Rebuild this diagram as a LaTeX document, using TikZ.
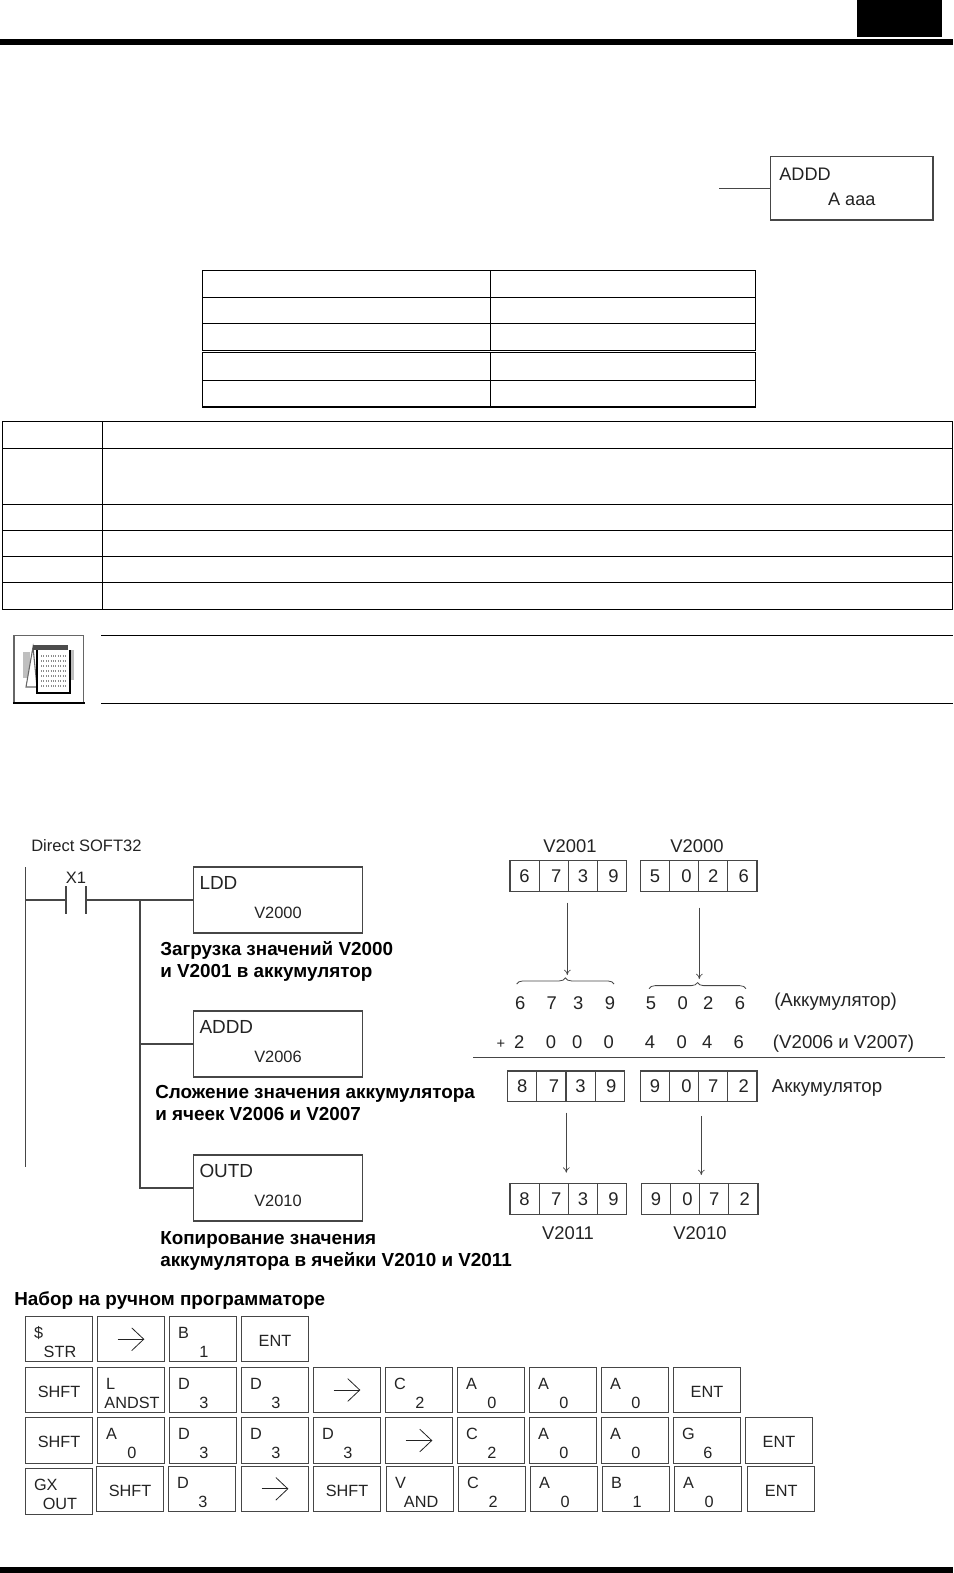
\documentclass[tikz,border=0pt]{standalone}
\usepackage{fontspec}
\setmainfont{Liberation Sans}
\usetikzlibrary{arrows.meta,positioning,decorations.pathreplacing}
\definecolor{corfio}{RGB}{70,70,70}
\definecolor{cortexto}{RGB}{35,35,35}
\newcommand{\keytext}[2]{\makebox[50.5pt][l]{\rule{0pt}{13.3pt}\hspace{6.5pt}#1}\\\makebox[50.5pt][c]{\hspace{1.5pt}#2}}
\newcommand{\keysolo}[1]{\rule{0pt}{11pt}#1}
\newcommand{\instrtext}[3]{\makebox[#1][l]{\hspace{4.5pt}#2}\\[7pt]\makebox[#1][c]{\fontsize{12.3}{14}\selectfont#3}\rule[-4pt]{0pt}{4pt}}
\newcommand{\digitrow}[4]{%
  \foreach \dgt [count=\i] in {#4} {
    \pgfmathsetmacro\nudge{{0,2.5,0,1.5}[\i-1]}
    \node[celula] (#1\i) at ({#2+29.15*(\i-.5)},#3) {};
    \node[numero] at ([xshift=\nudge*0.75pt]#1\i.center) {\dgt};
  }}
\begin{document}
\begin{tikzpicture}[
  x=0.75pt, y=-0.75pt,
  node distance=2.6pt,
  grade/.style={line width=0.9pt, color=black},
  fio/.style={line width=0.8pt, color=corfio},
  seta/.style={-{To[length=4pt,width=5pt]}, line width=0.5pt, color=corfio},
  setatecla/.style={-{Straight Barb[length=9pt,width=17pt]}, line width=0.6pt, color=cortexto},
  instr/.style={rectangle, draw=corfio, line width=0.9pt, minimum width=126.75pt,
                minimum height=49.5pt, inner sep=0pt, align=center, text=cortexto,
                font=\fontsize{14.2}{14.5}\selectfont},
  keycap/.style={rectangle, draw=corfio, line width=0.9pt, minimum width=50.5pt,
                 minimum height=34pt, inner sep=0pt, align=center, text=cortexto,
                 font=\fontsize{12.2}{14.25}\selectfont},
  celula/.style={rectangle, draw=corfio, line width=0.9pt, minimum width=21.86pt,
                 minimum height=23pt, inner sep=0pt},
  numero/.style={inner sep=0pt, text=cortexto, text height=9.9pt, text depth=0pt,
                 font=\fontsize{13.8}{16}\selectfont},
  rotulo/.style={inner sep=0pt, text=cortexto, text height=8.9pt, text depth=0pt,
                 font=\fontsize{12.4}{15}\selectfont},
  legenda/.style={anchor=north west, inner sep=0pt, align=left, text=black,
                  font=\bfseries\fontsize{14.15}{16.5}\selectfont}
]
  \useasboundingbox (0,0) rectangle (953,1573);

  % page bars
  \fill[black] (857,0) rectangle (942,37);
  \fill[black] (0,39) rectangle (953,45);
  \fill[black] (0,1566.7) rectangle (953,1573);

  % instruction box at the top
  \node[instr, minimum width=121.7pt, minimum height=47.6pt, font=\fontsize{13.6}{14}\selectfont] (topo) at (851.8,188.3)
    {\makebox[121.7pt][l]{\hspace{6.5pt}ADDD}\\[4.75pt]\makebox[121.7pt][c]{A aaa}\rule[-1.75pt]{0pt}{1.75pt}};
  \coordinate (topoFio) at (719,188.3);
  \draw[fio] (topoFio) -- (topo.west);

  % empty tables
  \draw[grade] (202.3,270.3) rectangle (755.3,350.8);
  \draw[grade] (202.3,352.3) rectangle (755.3,407);
  \foreach \y in {297.3,323.3,380.3}
    \draw[grade] (202.3,\y) -- (755.3,\y);
  \draw[grade] (490.3,270.3) -- (490.3,350.8);
  \draw[grade] (490.3,352.3) -- (490.3,407);
  \draw[grade] (2.7,421.3) rectangle (952.3,609.3);
  \foreach \y in {448.3,504.3,530.3,556.3,582.3}
    \draw[grade] (2.7,\y) -- (952.3,\y);
  \draw[grade] (102.3,421.3) -- (102.3,609.3);

  % note rules and icon
  \draw[grade, line width=0.75pt] (101,635) -- (953,635);
  \draw[grade, line width=0.75pt] (101,703) -- (953,703);
  \draw[black!60, line width=1.1pt] (13.8,635.5) rectangle (83.5,703);
  \fill[black] (13,702) rectangle (84.5,704);
  \fill[black!25] (22.7,652) rectangle (30,678);
  \fill[black!25] (70,650) rectangle (73.5,680);
  \draw[black!60, line width=0.8pt, fill=white] (33,647) -- (26,687) -- (37,687) -- cycle;
  \fill[black!70] (33,645) rectangle (68,650);
  \draw[black, line width=1.2pt, fill=white] (37,650) -- (37,693) -- (70,693) -- (70,650);
  \foreach \y in {656,661,666,671,676,681,686}
    \draw[black!45, line width=0.8pt, densely dotted] (41,\y) -- (66,\y);

  % ladder rung
  \node[rotulo, anchor=west] (titulo) at (31,846) {Direct SOFT32};
  \node[rotulo] (x1) at (76,878) {X1};
  \node[instr] (ldd) at (278,900) {\instrtext{126.75pt}{LDD}{V2000}};
  \node[instr, below=57.6pt of ldd] (addd) {\instrtext{126.75pt}{ADDD}{V2006}};
  \node[instr, below=57.6pt of addd] (outd) {\instrtext{126.75pt}{OUTD}{V2010}};
  \coordinate (trilhoA) at (25.5,867);
  \coordinate (trilhoB) at (25.5,1167);
  \coordinate (trilho) at (25.5,900);
  \coordinate (contatoE) at (66,900);
  \coordinate (contatoD) at (86,900);
  \coordinate (ramo) at (140,900);
  \coordinate (ramoB) at (140,1044);
  \draw[fio] (trilhoA) -- (trilhoB);
  \draw[fio] (trilho) -- (contatoE);
  \draw[fio] (contatoD) -- (ldd.west);
  \draw[fio] ([yshift=10.5pt]contatoE) -- ([yshift=-10.5pt]contatoE);
  \draw[fio] ([yshift=10.5pt]contatoD) -- ([yshift=-10.5pt]contatoD);
  \draw[fio] (ramo) -- (ramoB);
  \draw[fio] (ramoB) -- (addd.west);
  \draw[fio] (ramoB) |- (outd.west);
  \node[legenda] (legA) at (160,941) {Загрузка значений V2000\\и V2001 в аккумулятор};
  \node[legenda] (legB) at (155,1085) {Сложение значения аккумулятора\\и ячеек V2006 и V2007};
  \node[legenda] (legC) at (160,1231.5) {Копирование значения\\аккумулятора в ячейки V2010 и V2011};
  \node[legenda] (legD) at (14,1291) {Набор на ручном программаторе};

  % double word addition
  \node[numero] (v2001) at (570,846) {V2001};
  \node[numero] (v2000) at (697,846) {V2000};
  \digitrow{ca}{510}{876}{6,7,3,9}
  \digitrow{cb}{640.3}{876}{5,0,2,6}
  \coordinate (chaveA) at (567.3,902.7);
  \coordinate (chaveB) at (699.3,907.7);
  \coordinate (pontaA) at (567.3,975);
  \coordinate (pontaB) at (699.3,979);
  \draw[seta] (chaveA) -- (pontaA);
  \draw[seta] (chaveB) -- (pontaB);
  \coordinate (bracoA) at (516.7,984);
  \coordinate (bracoB) at (614,984);
  \coordinate (bracoC) at (649,988.7);
  \coordinate (bracoD) at (746,988.7);
  \draw[fio, line width=0.6pt, decorate, decoration={brace, amplitude=4.6pt}] (bracoA) -- (bracoB);
  \draw[fio, line width=0.6pt, decorate, decoration={brace, amplitude=4.6pt}] (bracoC) -- (bracoD);
  \foreach \dgt/\px [count=\i] in {6/520.3,7/551.7,3/578.3,9/610,5/651,0/682.7,2/708.3,6/740}
    \node[numero] (ac\i) at (\px,1003) {\dgt};
  \node[rotulo, font=\fontsize{11}{13}\selectfont] (mais) at (501,1043) {+};
  \foreach \dgt/\px [count=\i] in {2/519.3,0/551,0/577.3,0/608.7,4/650,0/681.7,4/707.3,6/738.7}
    \node[numero] (vv\i) at (\px,1042.3) {\dgt};
  \node[numero, anchor=west, font=\fontsize{14}{16}\selectfont] (rotA) at (774,1000) {(Аккумулятор)};
  \node[numero, anchor=west, font=\fontsize{14}{16}\selectfont] (rotB) at (772.7,1042.3) {(V2006 и V2007)};
  \node[numero, anchor=west, font=\fontsize{14}{16}\selectfont] (rotC) at (771.7,1086) {Аккумулятор};
  \coordinate (somaE) at (473.3,1057.3);
  \coordinate (somaD) at (944.7,1057.3);
  \draw[fio] (somaE) -- (somaD);
  \digitrow{cc}{507.7}{1086.3}{8,7,3,9}
  \digitrow{cd}{640.3}{1086.3}{9,0,7,2}
  \coordinate (saidaA) at (566.3,1112.7);
  \coordinate (saidaB) at (701.3,1116);
  \coordinate (pontaC) at (566.3,1172.7);
  \coordinate (pontaD) at (701.3,1175);
  \draw[seta] (saidaA) -- (pontaC);
  \draw[seta] (saidaB) -- (pontaD);
  \digitrow{ce}{510}{1199.2}{8,7,3,9}
  \digitrow{cf}{641.3}{1199.2}{9,0,7,2}
  \node[numero] (v2011) at (568,1233) {V2011};
  \node[numero] (v2010) at (700,1233) {V2010};

  % keystrokes
  \node[keycap] (k11) at (59,1339.2) {\keytext{\$}{STR}};
  \node[keycap, right=of k11] (k12) {};
  \node[keycap, right=of k12] (k13) {\keytext{B}{1}};
  \node[keycap, right=of k13] (k14) {\keysolo{ENT}};

  \node[keycap] (k21) at (59,1390) {\keysolo{SHFT}};
  \node[keycap, right=of k21] (k22) {\keytext{L}{ANDST}};
  \node[keycap, right=of k22] (k23) {\keytext{D}{3}};
  \node[keycap, right=of k23] (k24) {\keytext{D}{3}};
  \node[keycap, right=of k24] (k25) {};
  \node[keycap, right=of k25] (k26) {\keytext{C}{2}};
  \node[keycap, right=of k26] (k27) {\keytext{A}{0}};
  \node[keycap, right=of k27] (k28) {\keytext{A}{0}};
  \node[keycap, right=of k28] (k29) {\keytext{A}{0}};
  \node[keycap, right=of k29] (k210) {\keysolo{ENT}};

  \node[keycap] (k31) at (59,1440.5) {\keysolo{SHFT}};
  \node[keycap, right=of k31] (k32) {\keytext{A}{0}};
  \node[keycap, right=of k32] (k33) {\keytext{D}{3}};
  \node[keycap, right=of k33] (k34) {\keytext{D}{3}};
  \node[keycap, right=of k34] (k35) {\keytext{D}{3}};
  \node[keycap, right=of k35] (k36) {};
  \node[keycap, right=of k36] (k37) {\keytext{C}{2}};
  \node[keycap, right=of k37] (k38) {\keytext{A}{0}};
  \node[keycap, right=of k38] (k39) {\keytext{A}{0}};
  \node[keycap, right=of k39] (k310) {\keytext{G}{6}};
  \node[keycap, right=of k310] (k311) {\keysolo{ENT}};

  \node[keycap] (k41) at (59,1491.5) {\keytext{GX}{OUT}};
  \node[keycap] (k42) at (130,1488.8) {\keysolo{SHFT}};
  \node[keycap, right=of k42] (k43) {\keytext{D}{3}};
  \node[keycap, right=3.4pt of k43] (k44) {};
  \node[keycap, right=of k44] (k45) {\keysolo{SHFT}};
  \node[keycap, right=3.4pt of k45] (k46) {\keytext{V}{AND}};
  \node[keycap, right=of k46] (k47) {\keytext{C}{2}};
  \node[keycap, right=of k47] (k48) {\keytext{A}{0}};
  \node[keycap, right=of k48] (k49) {\keytext{B}{1}};
  \node[keycap, right=of k49] (k410) {\keytext{A}{0}};
  \node[keycap, right=3.4pt of k410] (k411) {\keysolo{ENT}};

  \foreach \k in {k12,k25,k36,k44}
    \draw[setatecla] ([xshift=-10pt]\k.center) -- ([xshift=10pt]\k.center);
\end{tikzpicture}
\end{document}
